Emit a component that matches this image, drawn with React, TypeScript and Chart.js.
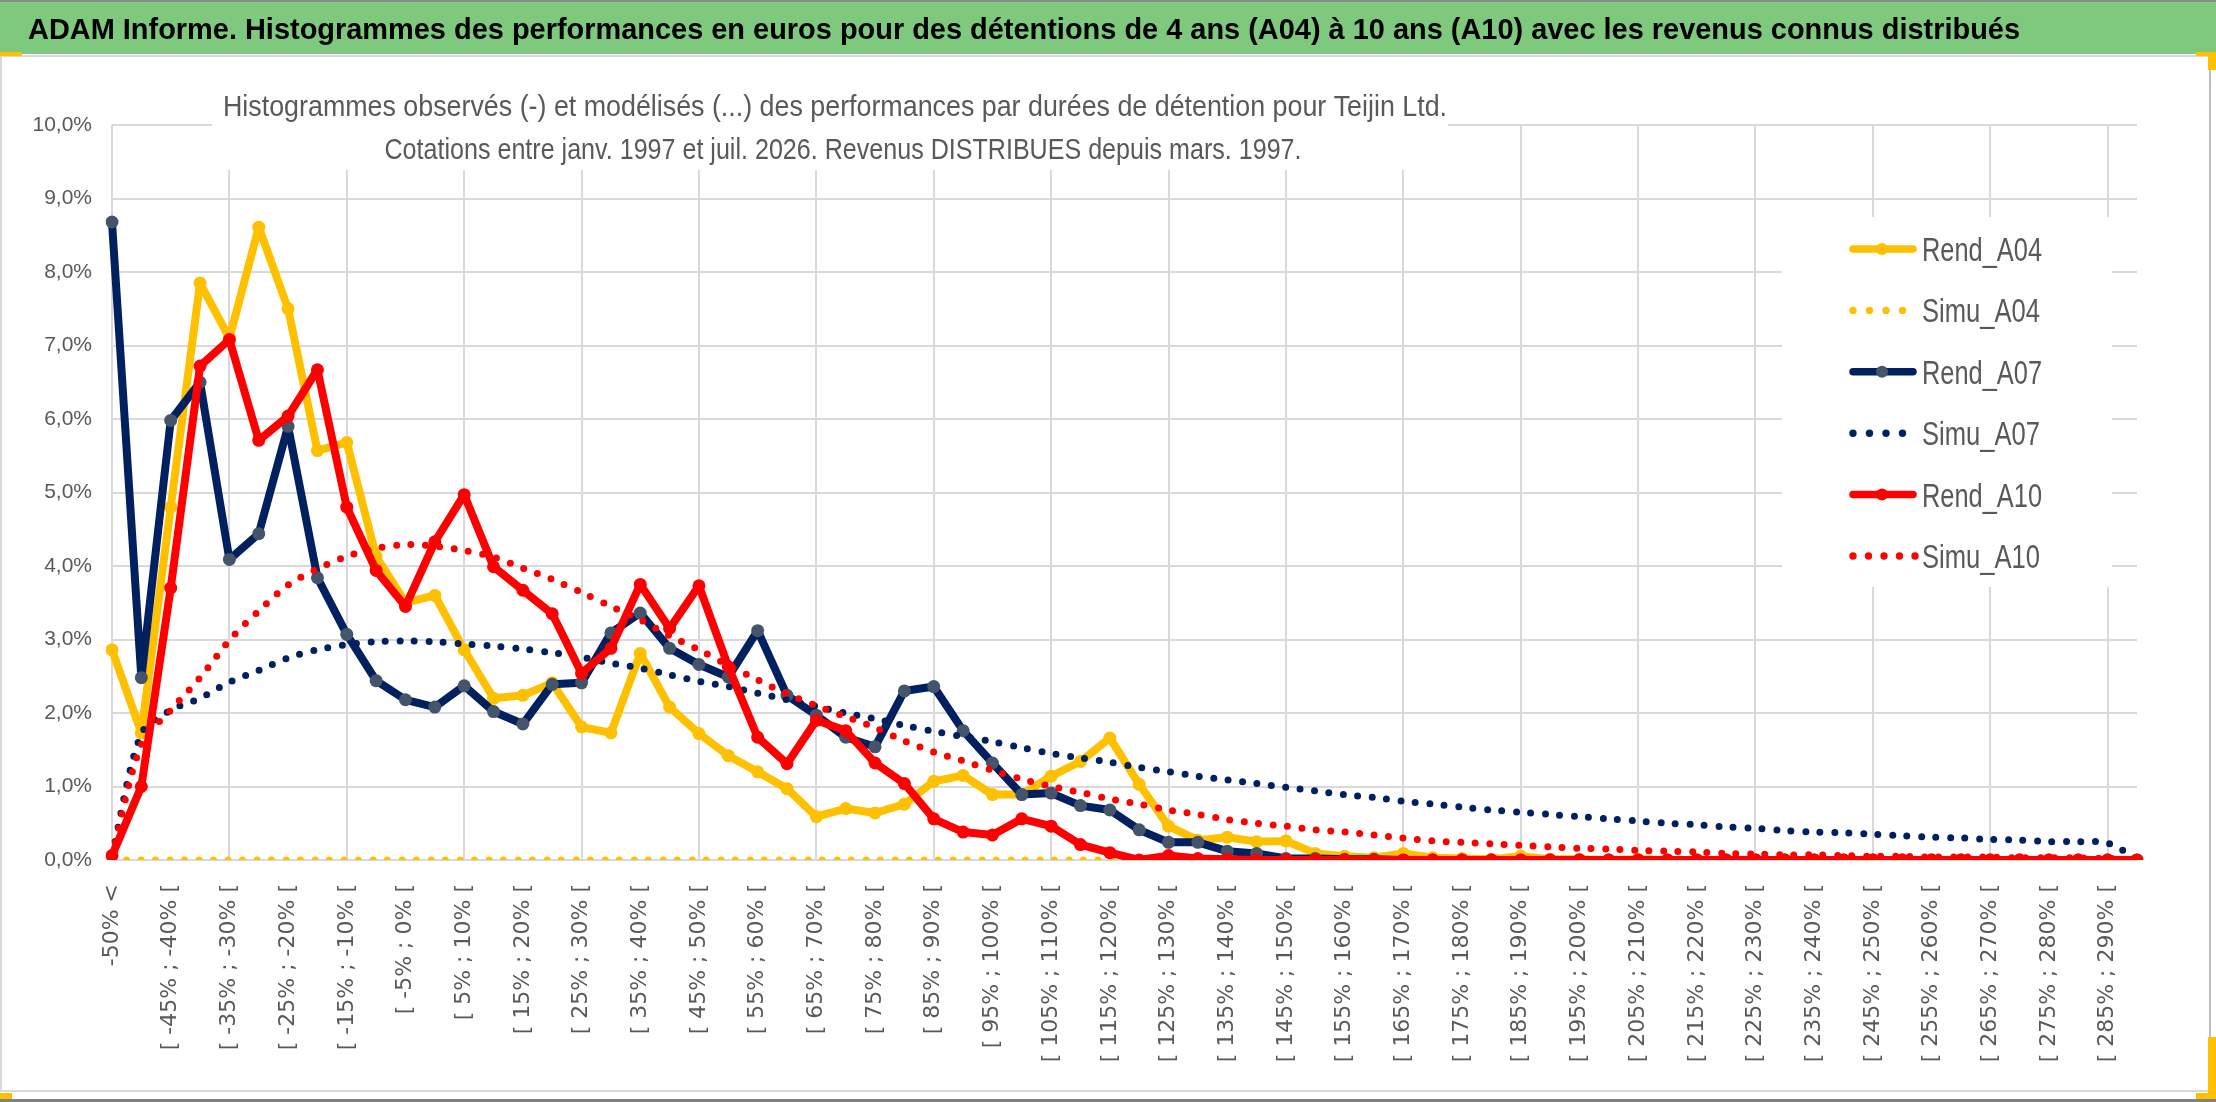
import { useEffect, useRef } from "react"
import { Chart, registerables } from "chart.js"

Chart.register(...registerables)

// Categories (bins of 5%)
const categories = [
  "-50% <", "[ -50% ; -45% [", "[ -45% ; -40% [", "[ -40% ; -35% [", "[ -35% ; -30% [",
  "[ -30% ; -25% [", "[ -25% ; -20% [", "[ -20% ; -15% [", "[ -15% ; -10% [", "[ -10% ; -5% [",
  "[ -5% ; 0% [", "[ 0% ; 5% [", "[ 5% ; 10% [", "[ 10% ; 15% [", "[ 15% ; 20% [",
  "[ 20% ; 25% [", "[ 25% ; 30% [", "[ 30% ; 35% [", "[ 35% ; 40% [", "[ 40% ; 45% [",
  "[ 45% ; 50% [", "[ 50% ; 55% [", "[ 55% ; 60% [", "[ 60% ; 65% [", "[ 65% ; 70% [",
  "[ 70% ; 75% [", "[ 75% ; 80% [", "[ 80% ; 85% [", "[ 85% ; 90% [", "[ 90% ; 95% [",
  "[ 95% ; 100% [", "[ 100% ; 105% [", "[ 105% ; 110% [", "[ 110% ; 115% [", "[ 115% ; 120% [",
  "[ 120% ; 125% [", "[ 125% ; 130% [", "[ 130% ; 135% [", "[ 135% ; 140% [", "[ 140% ; 145% [",
  "[ 145% ; 150% [", "[ 150% ; 155% [", "[ 155% ; 160% [", "[ 160% ; 165% [", "[ 165% ; 170% [",
  "[ 170% ; 175% [", "[ 175% ; 180% [", "[ 180% ; 185% [", "[ 185% ; 190% [", "[ 190% ; 195% [",
  "[ 195% ; 200% [", "[ 200% ; 205% [", "[ 205% ; 210% [", "[ 210% ; 215% [", "[ 215% ; 220% [",
  "[ 220% ; 225% [", "[ 225% ; 230% [", "[ 230% ; 235% [", "[ 235% ; 240% [", "[ 240% ; 245% [",
  "[ 245% ; 250% [", "[ 250% ; 255% [", "[ 255% ; 260% [", "[ 260% ; 265% [", "[ 265% ; 270% [",
  "[ 270% ; 275% [", "[ 275% ; 280% [", "[ 280% ; 285% [", "[ 285% ; 290% [", "[ 290% ; 295% [",
]

// Observed frequencies (%)
const rendA04 = [
  2.86, 1.73, 4.80, 7.85, 7.10, 8.61, 7.50, 5.57, 5.68, 4.13,
  3.50, 3.60, 2.86, 2.20, 2.24, 2.41, 1.81, 1.73, 2.81, 2.08,
  1.72, 1.42, 1.20, 0.97, 0.59, 0.70, 0.64, 0.76, 1.07, 1.15,
  0.89, 0.89, 1.14, 1.34, 1.66, 1.03, 0.46, 0.27, 0.31, 0.25,
  0.26, 0.09, 0.05, 0.03, 0.09, 0.03, 0.02, 0.01, 0.05, 0.01,
  0.01, 0.00, 0.01, 0.00, 0.00, 0.00, 0.00, 0.00, 0.00, 0.00,
  0.00, 0.00, 0.00, 0.00, 0.00, 0.00, 0.00, 0.00, 0.00, 0.00,
]
const rendA07 = [
  8.68, 2.48, 5.98, 6.50, 4.09, 4.44, 5.90, 3.84, 3.07, 2.44,
  2.18, 2.08, 2.37, 2.02, 1.85, 2.39, 2.41, 3.09, 3.36, 2.88,
  2.66, 2.49, 3.12, 2.24, 1.97, 1.67, 1.54, 2.30, 2.36, 1.76,
  1.32, 0.89, 0.91, 0.74, 0.68, 0.41, 0.24, 0.24, 0.12, 0.09,
  0.02, 0.02, 0.01, 0.01, 0.00, 0.00, 0.00, 0.00, 0.00, 0.00,
  0.00, 0.00, 0.00, 0.00, 0.00, 0.00, 0.00, 0.00, 0.00, 0.00,
  0.00, 0.00, 0.00, 0.00, 0.00, 0.00, 0.00, 0.00, 0.00, 0.00,
]
const rendA10 = [
  0.06, 1.00, 3.70, 6.72, 7.08, 5.71, 6.04, 6.67, 4.80, 3.94,
  3.45, 4.33, 4.97, 3.99, 3.67, 3.35, 2.54, 2.88, 3.75, 3.15,
  3.73, 2.63, 1.67, 1.31, 1.90, 1.76, 1.32, 1.04, 0.56, 0.38,
  0.34, 0.56, 0.46, 0.21, 0.10, 0.00, 0.06, 0.02, 0.01, 0.00,
  0.00, 0.00, 0.00, 0.00, 0.00, 0.00, 0.00, 0.00, 0.00, 0.00,
  0.00, 0.00, 0.00, 0.00, 0.00, 0.00, 0.00, 0.00, 0.00, 0.00,
  0.00, 0.00, 0.00, 0.00, 0.00, 0.00, 0.00, 0.00, 0.00, 0.00,
]

// Modelled frequencies (%)
const simuA04 = [
  0, 0, 0, 0, 0, 0, 0, 0, 0, 0,
  0, 0, 0, 0, 0, 0, 0, 0, 0, 0,
  0, 0, 0, 0, 0, 0, 0, 0, 0, 0,
  0, 0, 0, 0, 0, 0, 0, 0, 0, 0,
  0, 0, 0, 0, 0, 0, 0, 0, 0, 0,
  0, 0, 0, 0, 0, 0, 0, 0, 0, 0,
  0, 0, 0, 0, 0, 0, 0, 0, 0, 0,
]
const simuA07 = [
  0.06, 1.72, 2.04, 2.20, 2.42, 2.58, 2.75, 2.86, 2.93, 2.97,
  2.98, 2.97, 2.94, 2.91, 2.87, 2.82, 2.76, 2.68, 2.61, 2.52,
  2.43, 2.36, 2.27, 2.18, 2.09, 2.00, 1.92, 1.83, 1.75, 1.68,
  1.61, 1.53, 1.45, 1.39, 1.33, 1.26, 1.20, 1.14, 1.09, 1.04,
  0.99, 0.94, 0.89, 0.85, 0.80, 0.76, 0.72, 0.68, 0.65, 0.62,
  0.59, 0.56, 0.53, 0.50, 0.48, 0.45, 0.43, 0.40, 0.38, 0.37,
  0.35, 0.33, 0.31, 0.30, 0.28, 0.27, 0.25, 0.25, 0.23, 0.02,
]
const simuA10 = [
  0.05, 1.57, 2.04, 2.48, 2.99, 3.39, 3.74, 3.96, 4.13, 4.24,
  4.29, 4.27, 4.21, 4.12, 3.97, 3.82, 3.64, 3.45, 3.27, 3.05,
  2.86, 2.65, 2.45, 2.26, 2.10, 1.95, 1.80, 1.62, 1.47, 1.35,
  1.22, 1.10, 1.00, 0.92, 0.83, 0.76, 0.68, 0.62, 0.55, 0.50,
  0.46, 0.41, 0.38, 0.34, 0.30, 0.26, 0.24, 0.22, 0.20, 0.18,
  0.16, 0.15, 0.13, 0.12, 0.11, 0.09, 0.08, 0.07, 0.07, 0.06,
  0.05, 0.05, 0.04, 0.04, 0.04, 0.03, 0.03, 0.03, 0.02, 0.00,
]

const TITLE =
  "ADAM Informe. Histogrammes des performances en euros pour des détentions de 4 ans (A04) à 10 ans (A10) avec les revenus connus distribués"
const SUBTITLE_1 =
  "Histogrammes observés (-) et modélisés (...) des performances par durées de détention pour Teijin Ltd."
const SUBTITLE_2 =
  "Cotations entre janv. 1997 et juil. 2026. Revenus DISTRIBUES depuis mars. 1997."

const YELLOW = "#FFC000"
const NAVY = "#002060"
const RED = "#FF0000"
const NAVY_MARKER = "#44546A"
const GRAY_TEXT = "#595959"
const GRID = "#D9D9D9"

// draw text squeezed/stretched horizontally to a target width
function drawFit(
  ctx: CanvasRenderingContext2D,
  text: string,
  x: number,
  y: number,
  font: string,
  width: number,
  align: CanvasTextAlign,
) {
  ctx.save()
  ctx.font = font
  const w = ctx.measureText(text).width
  ctx.translate(x, y)
  ctx.scale(width / w, 1)
  ctx.textAlign = align
  ctx.textBaseline = "alphabetic"
  ctx.fillText(text, 0, 0)
  ctx.restore()
}

const decorPlugin = {
  id: "decor",
  afterDraw(chart: Chart) {
    const ctx = chart.ctx
    ctx.save()

    // header band
    ctx.fillStyle = "#7EC97E"
    ctx.fillRect(0, 0, 2216, 54)
    ctx.fillStyle = "#8C8C8C"
    ctx.fillRect(0, 0, 2216, 2)
    ctx.fillStyle = GRID
    ctx.fillRect(0, 55, 2216, 2)
    ctx.fillStyle = "#000000"
    drawFit(ctx, TITLE, 28, 39, 'bold 30px "Liberation Sans"', 1992, "left")

    // frame
    ctx.fillStyle = GRID
    ctx.fillRect(0, 57, 2, 1035)
    ctx.fillRect(0, 1090, 2210, 2)
    ctx.fillStyle = "#BFBFBF"
    ctx.fillRect(2209, 57, 2, 1035)
    ctx.fillStyle = "#808080"
    ctx.fillRect(0, 1099, 2216, 3)

    // selection handles
    ctx.fillStyle = YELLOW
    ctx.fillRect(0, 52, 22, 4)
    ctx.fillRect(2196, 52, 20, 4)
    ctx.fillRect(2208, 52, 8, 18)
    ctx.fillRect(2208, 1037, 8, 62)
    ctx.fillRect(2196, 1093, 20, 6)
    ctx.fillRect(0, 1093, 12, 6)

    // chart title box
    ctx.fillStyle = "#FFFFFF"
    ctx.fillRect(212, 78, 1236, 92)
    ctx.fillStyle = GRAY_TEXT
    drawFit(ctx, SUBTITLE_1, 835, 116, '30px "Liberation Sans"', 1224, "center")
    drawFit(ctx, SUBTITLE_2, 843, 159, '30px "Liberation Sans"', 917, "center")

    // legend
    ctx.fillStyle = "#FFFFFF"
    ctx.fillRect(1782, 217, 330, 370)
    const sets = chart.data.datasets as any[]
    sets.forEach((ds, row) => {
      const cy = 249 + row * 61.4
      const color = ds.borderColor as string
      if (ds.borderDash && ds.borderDash.length) {
        const n = ds.label === "Simu_A10" ? 5 : 4
        const step = ds.label === "Simu_A10" ? 15.5 : 16.5
        ctx.fillStyle = color
        for (let k = 0; k < n; k++) {
          ctx.beginPath()
          ctx.arc(1853 + k * step, cy, 3.7, 0, Math.PI * 2)
          ctx.fill()
        }
      } else {
        ctx.strokeStyle = color
        ctx.lineWidth = 7.5
        ctx.lineCap = "round"
        ctx.beginPath()
        ctx.moveTo(1853, cy)
        ctx.lineTo(1913, cy)
        ctx.stroke()
        ctx.fillStyle = ds.pointBackgroundColor as string
        ctx.beginPath()
        ctx.arc(1882, cy, 6, 0, Math.PI * 2)
        ctx.fill()
      }
      ctx.fillStyle = GRAY_TEXT
      drawFit(ctx, ds.label, 1922, cy + 12, '33px "Liberation Sans"', ds.label.startsWith("Rend") ? 120 : 118, "left")
    })

    ctx.restore()
  },
}

function solid(label: string, data: number[], color: string, marker: string, order: number) {
  return {
    label,
    data,
    borderColor: color,
    backgroundColor: color,
    borderWidth: 8,
    borderJoinStyle: "round" as const,
    pointRadius: 6.5,
    pointHoverRadius: 6.5,
    pointBackgroundColor: marker,
    pointBorderWidth: 0,
    tension: 0,
    order,
  }
}

function dotted(label: string, data: number[], color: string, order: number) {
  return {
    label,
    data,
    borderColor: color,
    backgroundColor: color,
    borderWidth: 7,
    borderDash: [0, 14.5],
    borderCapStyle: "round" as const,
    pointRadius: 0,
    pointHoverRadius: 0,
    tension: 0.3,
    order,
  }
}

export default function App() {
  const canvasRef = useRef<HTMLCanvasElement>(null)
  const chartInstance = useRef<Chart | null>(null)

  useEffect(() => {
    document.body.style.margin = "0"
    if (!canvasRef.current) return

    if (chartInstance.current) {
      chartInstance.current.destroy()
    }

    chartInstance.current = new Chart(canvasRef.current, {
      type: "line",
      data: {
        labels: categories,
        datasets: [
          solid("Rend_A04", rendA04, YELLOW, YELLOW, 6),
          dotted("Simu_A04", simuA04, YELLOW, 5),
          solid("Rend_A07", rendA07, NAVY, NAVY_MARKER, 4),
          dotted("Simu_A07", simuA07, NAVY, 3),
          solid("Rend_A10", rendA10, RED, RED, 2),
          dotted("Simu_A10", simuA10, RED, 1),
        ],
      },
      options: {
        responsive: false,
        animation: false,
        devicePixelRatio: 1,
        layout: { padding: { top: 125, right: 79, left: 0, bottom: 0 } },
        plugins: {
          legend: { display: false },
          tooltip: { enabled: false },
        },
        scales: {
          x: {
            offset: false,
            grid: {
              color: (c: any) => (c.index % 4 === 0 ? GRID : "rgba(0,0,0,0)"),
              lineWidth: 2,
              drawTicks: false,
            },
            border: { display: false },
            ticks: {
              autoSkip: false,
              minRotation: 90,
              maxRotation: 90,
              padding: 24,
              color: GRAY_TEXT,
              font: { family: '"DejaVu Sans"', size: 22 },
              callback: (_v: any, i: number) => (i % 2 === 0 ? categories[i] : ""),
            },
            afterFit: (s: any) => {
              s.height = 242
            },
          },
          y: {
            min: 0,
            max: 10,
            grid: { color: GRID, lineWidth: 2, drawTicks: false },
            border: { display: false },
            ticks: {
              stepSize: 1,
              padding: 20,
              color: GRAY_TEXT,
              font: { family: '"Liberation Sans"', size: 21 },
              callback: (v: any) => Number(v).toFixed(1).replace(".", ",") + "%",
            },
            afterFit: (s: any) => {
              s.width = 112
            },
          },
        },
      },
      plugins: [decorPlugin],
    })

    return () => {
      if (chartInstance.current) {
        chartInstance.current.destroy()
        chartInstance.current = null
      }
    }
  }, [])

  return (
    <div style={{ width: 2216, height: 1102, background: "#ffffff" }}>
      <canvas ref={canvasRef} width={2216} height={1102} style={{ display: "block" }} />
    </div>
  )
}
